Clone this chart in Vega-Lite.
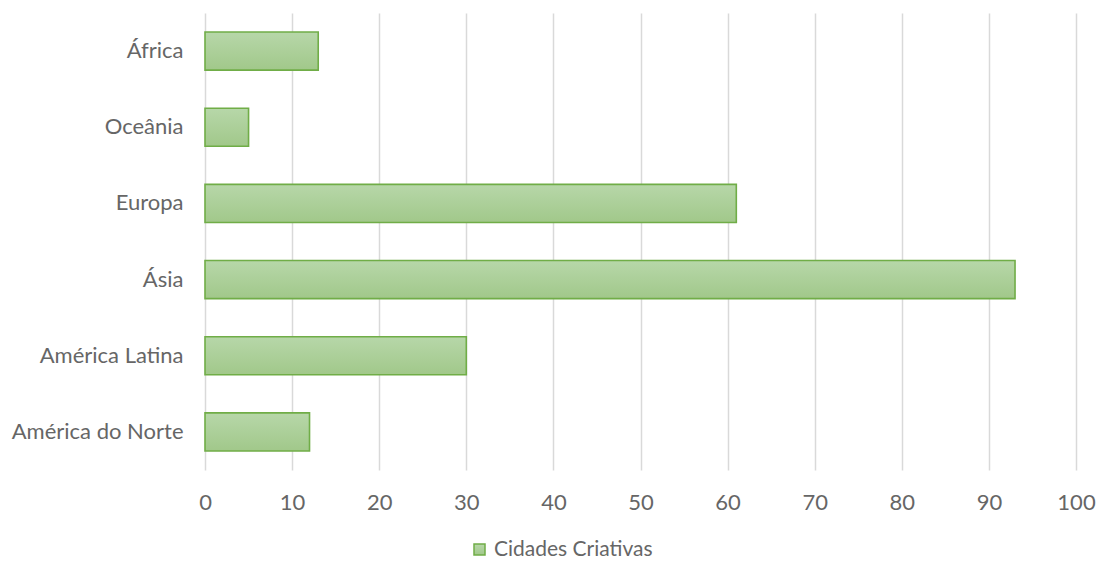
{
  "$schema": "https://vega.github.io/schema/vega-lite/v6.json",
  "width": 871,
  "height": 457,
  "autosize": {"type": "none"},
  "padding": {"left": 205, "top": 13, "right": 20, "bottom": 93},
  "background": "white",
  "config": {
    "view": {"stroke": null},
    "font": "Lato"
  },
  "data": {
    "values": [
      {"regiao": "África", "valor": 13, "serie": "Cidades Criativas"},
      {"regiao": "Oceânia", "valor": 5, "serie": "Cidades Criativas"},
      {"regiao": "Europa", "valor": 61, "serie": "Cidades Criativas"},
      {"regiao": "Ásia", "valor": 93, "serie": "Cidades Criativas"},
      {"regiao": "América Latina", "valor": 30, "serie": "Cidades Criativas"},
      {"regiao": "América do Norte", "valor": 12, "serie": "Cidades Criativas"}
    ]
  },
  "mark": {
    "type": "bar",
    "fill": {
      "gradient": "linear",
      "x1": 0, "y1": 0, "x2": 0, "y2": 1,
      "stops": [
        {"offset": 0, "color": "#b7d7a9"},
        {"offset": 1, "color": "#a1c88a"}
      ]
    },
    "strokeWidth": 1.6
  },
  "encoding": {
    "y": {
      "field": "regiao",
      "type": "nominal",
      "sort": null,
      "scale": {"paddingInner": 0.5, "paddingOuter": 0.25},
      "axis": {
        "title": null,
        "domain": false,
        "ticks": false,
        "labelFontSize": 22,
        "labelColor": "#666666",
        "labelPadding": 22,
        "labelLimit": 300,
        "labelFont": "Lato"
      }
    },
    "x": {
      "field": "valor",
      "type": "quantitative",
      "scale": {"domain": [0, 100], "nice": false},
      "axis": {
        "title": null,
        "values": [0, 10, 20, 30, 40, 50, 60, 70, 80, 90, 100],
        "domain": false,
        "ticks": false,
        "grid": true,
        "gridColor": "#d9d9d9",
        "gridWidth": 1.5,
        "labelFlush": false,
        "labelFontSize": 22,
        "labelColor": "#666666",
        "labelPadding": 22,
        "labelFont": "Lato"
      }
    },
    "stroke": {
      "field": "serie",
      "type": "nominal",
      "scale": {"range": ["#70ad47"]},
      "legend": {
        "orient": "none",
        "legendX": 264,
        "legendY": 526,
        "padding": 0,
        "title": null,
        "symbolType": "square",
        "symbolSize": 121,
        "symbolFillColor": "#a9cf95",
        "symbolStrokeWidth": 1.5,
        "labelFontSize": 21,
        "labelColor": "#666666",
        "labelFont": "Lato",
        "labelLimit": 400,
        "labelOffset": 4
      }
    }
  }
}
